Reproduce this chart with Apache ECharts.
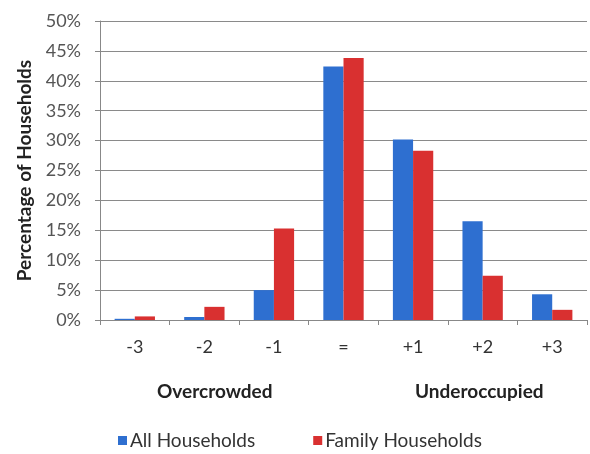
<!DOCTYPE html>
<html>
<head>
<meta charset="utf-8">
<script src="https://cdn.jsdelivr.net/npm/echarts@6/dist/echarts.min.js"></script>
<style>
  html, body { margin: 0; padding: 0; background: #fff; }
  #chart { width: 590px; height: 454px; }
</style>
</head>
<body>
<div id="chart"></div>
<script>
// Occupancy rating categories (bedrooms relative to standard)
const categories = ['-3', '-2', '-1', '=', '+1', '+2', '+3'];
// Share of households in each category, percent
const allHouseholds = [0.2, 0.5, 5.0, 42.4, 30.2, 16.5, 4.3];
const familyHouseholds = [0.6, 2.2, 15.3, 43.8, 28.3, 7.4, 1.7];
const seriesNames = ['All Households', 'Family Households'];
const groupLabels = ['Overcrowded', 'Underoccupied'];

const font = 'Lato, "Open Sans", sans-serif';
const chart = echarts.init(document.getElementById('chart'));

chart.setOption({
  animation: false,
  textStyle: { fontFamily: font },
  grid: { left: 100, right: 3, top: 21, bottom: 134, containLabel: false },
  legend: {
    data: seriesNames,
    top: 426,
    left: 113,
    itemWidth: 9,
    itemHeight: 9,
    itemGap: 58,
    icon: 'rect',
    textStyle: { fontSize: 19, color: '#333', fontFamily: font, padding: [0, 0, 0, -2] }
  },
  xAxis: {
    type: 'category',
    data: categories,
    axisLine: { lineStyle: { color: '#888', width: 1 } },
    axisTick: { show: true, length: 5, lineStyle: { color: '#888' } },
    axisLabel: { fontSize: 18, color: '#333', margin: 18, fontFamily: font }
  },
  yAxis: {
    type: 'value',
    min: 0,
    max: 50,
    interval: 5,
    name: 'Percentage of Households',
    nameLocation: 'middle',
    nameGap: 64,
    nameTextStyle: { fontSize: 19, fontWeight: 'bold', color: '#222', fontFamily: font },
    axisLine: { show: true, lineStyle: { color: '#888' } },
    axisTick: { show: true, length: 5, lineStyle: { color: '#888' } },
    splitLine: { lineStyle: { color: '#8a8a8a', width: 1 } },
    axisLabel: { formatter: '{value}%', fontSize: 18, color: '#555', margin: 19, fontFamily: font }
  },
  graphic: [
    {
      type: 'text', left: 157, top: 382,
      style: { text: groupLabels[0], font: 'bold 19px ' + font, fill: '#222' }
    },
    {
      type: 'text', left: 415, top: 382,
      style: { text: groupLabels[1], font: 'bold 19px ' + font, fill: '#222' }
    }
  ],
  series: [
    {
      name: seriesNames[0], type: 'bar', data: allHouseholds,
      barGap: '0%', barCategoryGap: '42%',
      itemStyle: { color: '#2e6fd0' }
    },
    {
      name: seriesNames[1], type: 'bar', data: familyHouseholds,
      barGap: '0%', barCategoryGap: '42%',
      itemStyle: { color: '#d93030' }
    }
  ]
});
</script>
</body>
</html>
